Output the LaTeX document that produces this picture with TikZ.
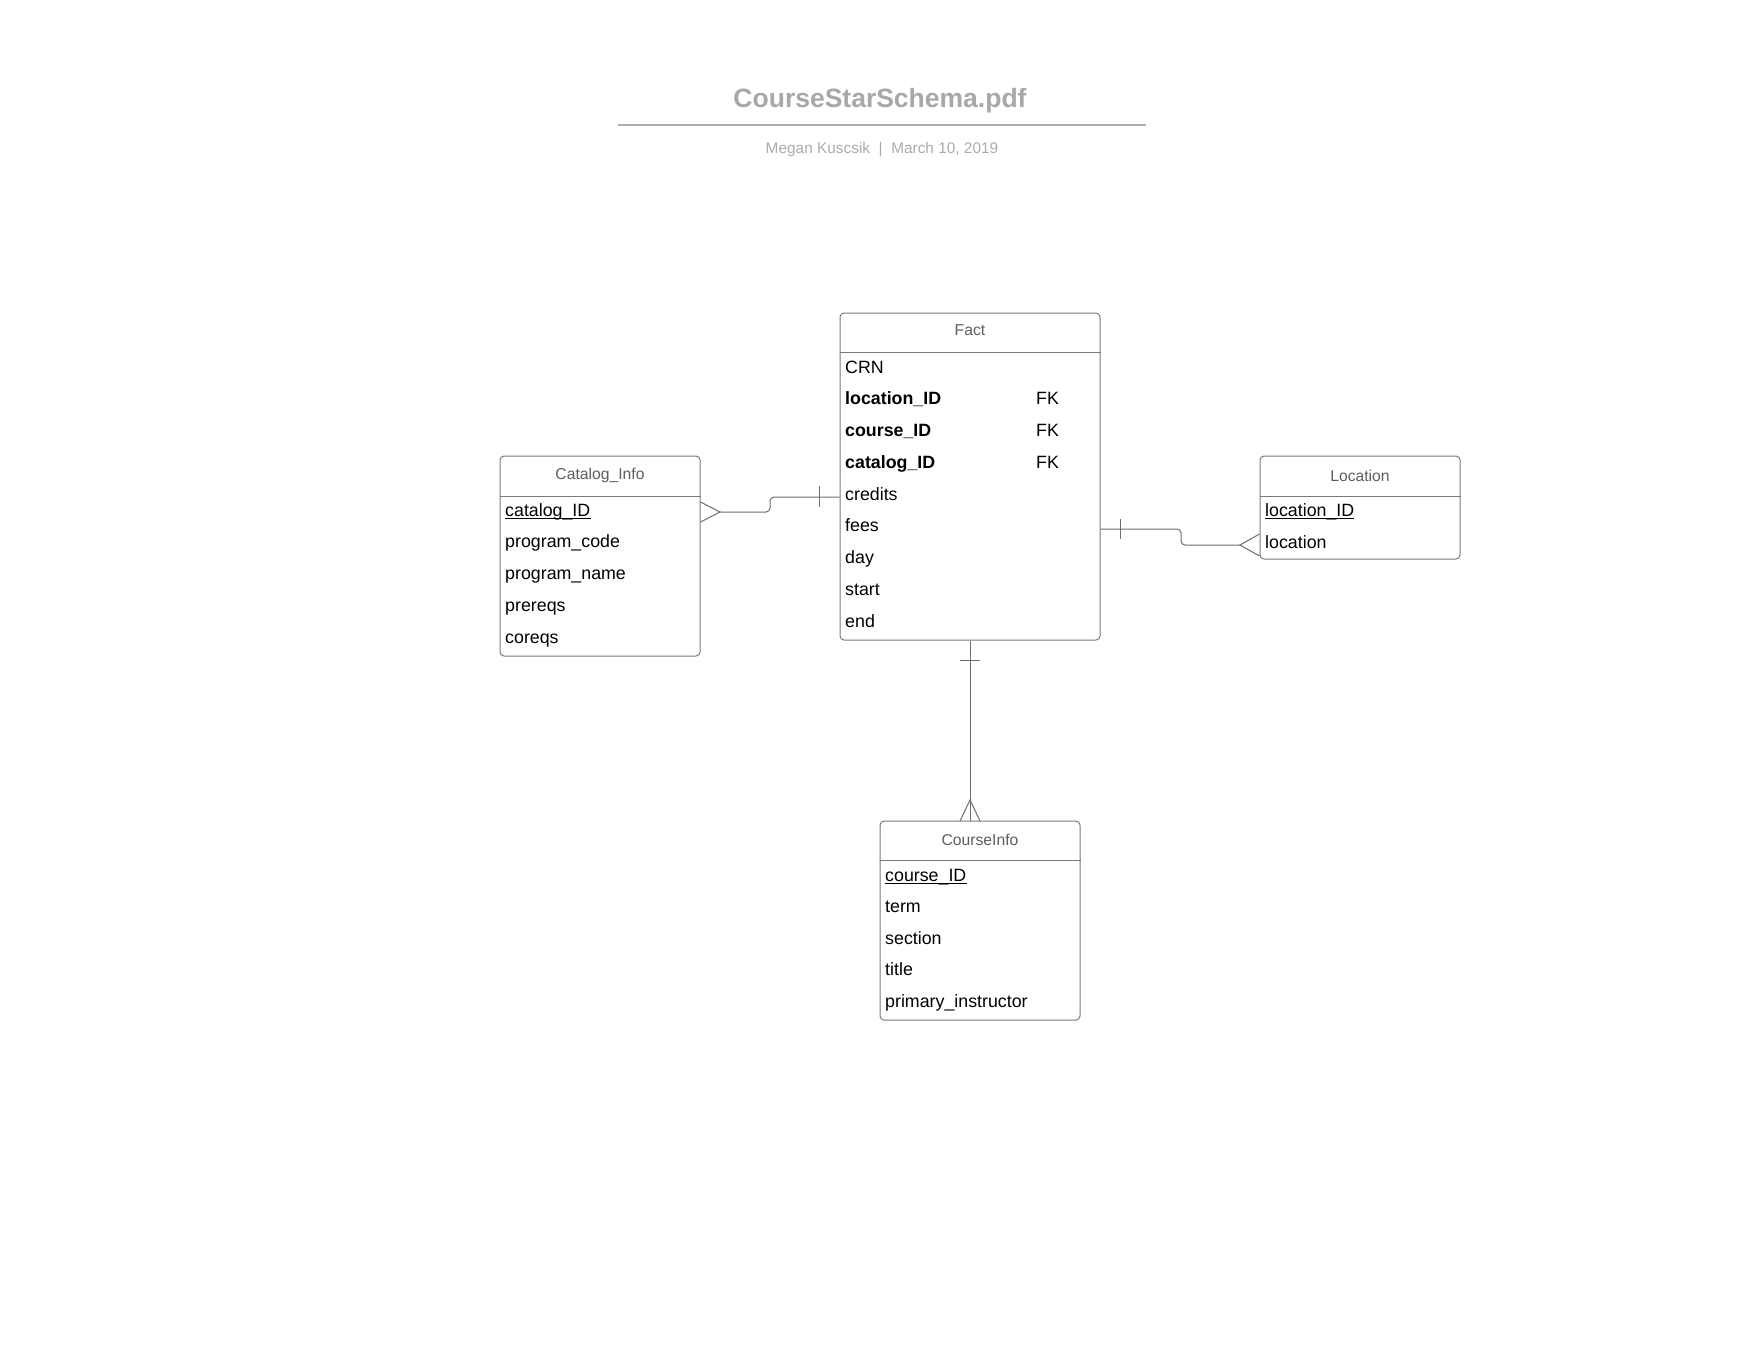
\documentclass[tikz,border=0pt]{standalone}
\usepackage{fontspec}
\setmainfont{Liberation Sans}
\definecolor{titlegray}{HTML}{A8A8A8}
\definecolor{subgray}{HTML}{ABABAB}
\definecolor{rulegray}{HTML}{ADADAD}
\definecolor{boxgray}{HTML}{7A7A7A}
\definecolor{linegray}{HTML}{6E6E6E}
\definecolor{hdrgray}{HTML}{5E5E5E}
\tikzset{
  ent/.style={draw=boxgray, line width=1pt, rounded corners=4pt, rectangle, inner sep=0pt},
  hdr/.style={text=hdrgray, font=\fontsize{15.7}{18}\selectfont, anchor=center, inner sep=0pt},
  fld/.style={anchor=base west, inner sep=0pt, font=\fontsize{17.8}{20}\selectfont},
  bfld/.style={fld, font=\fontsize{17.8}{20}\selectfont\bfseries},
  sepline/.style={draw=boxgray, line width=1pt},
  conn/.style={draw=linegray, line width=1pt},
  ul/.style={draw=black, line width=1.1pt},
}
\begin{document}
\begin{tikzpicture}[x=1pt,y=-1pt]
\useasboundingbox[fill=white] (0,0) rectangle (1760,1360);

% title block
\node[anchor=base, inner sep=0pt, text=titlegray, font=\fontsize{26.5}{30}\selectfont\bfseries] (title) at (880,107) {CourseStarSchema.pdf};
\draw[draw=rulegray, line width=2pt] (618,125) -- (1146,125);
\node[anchor=base, inner sep=0pt, text=subgray, font=\fontsize{15.4}{18}\selectfont] (sub) at (882,153) {Megan Kuscsik\ \ |\ \ March 10, 2019};

% Fact
\node[ent, minimum width=260pt, minimum height=327pt] (fact) at (970,476.5) {};
\draw[sepline] (fact.west |- 0,352) -- (fact.east |- 0,352);
\node[hdr] (facth) at (970,330) {Fact};
\node[fld] (f1) at (845,373) {CRN};
\node[bfld] (f2) at (845,404.75) {location\_ID};
\node[bfld] (f3) at (845,436.5) {course\_ID};
\node[bfld] (f4) at (845,468.25) {catalog\_ID};
\node[fld] (f5) at (845,500) {credits};
\node[fld] (f6) at (845,531.75) {fees};
\node[fld] (f7) at (845,563.5) {day};
\node[fld] (f8) at (845,595.25) {start};
\node[fld] (f9) at (845,627) {end};
\node[fld] (fk1) at (1036,404.75) {FK};
\node[fld] (fk2) at (1036,436.5) {FK};
\node[fld] (fk3) at (1036,468.25) {FK};

% Catalog_Info
\node[ent, minimum width=200pt, minimum height=200pt] (cat) at (600,556) {};
\draw[sepline] (cat.west |- 0,496) -- (cat.east |- 0,496);
\node[hdr] (cath) at (600,475.5) {Catalog\_Info};
\node[fld] (c1) at (505,516) {catalog\_ID};
\draw[ul] ([yshift=-2.2pt]c1.base west) -- ([yshift=-2.2pt]c1.base east);
\node[fld] (c2) at (505,547.75) {program\_code};
\node[fld] (c3) at (505,579.5) {program\_name};
\node[fld] (c4) at (505,611.25) {prereqs};
\node[fld] (c5) at (505,643) {coreqs};

% Location
\node[ent, minimum width=200pt, minimum height=103pt] (loc) at (1360,507.5) {};
\draw[sepline] (loc.west |- 0,496) -- (loc.east |- 0,496);
\node[hdr] (loch) at (1360,475.5) {Location};
\node[fld] (l1) at (1265,516) {location\_ID};
\draw[ul] ([yshift=-2.2pt]l1.base west) -- ([yshift=-2.2pt]l1.base east);
\node[fld] (l2) at (1265,548) {location};

% CourseInfo
\node[ent, minimum width=200pt, minimum height=199pt] (ci) at (980,920.5) {};
\draw[sepline] (ci.west |- 0,860) -- (ci.east |- 0,860);
\node[hdr] (cih) at (980,839.5) {CourseInfo};
\node[fld] (k1) at (885,881) {course\_ID};
\draw[ul] ([yshift=-2.2pt]k1.base west) -- ([yshift=-2.2pt]k1.base east);
\node[fld] (k2) at (885,912.5) {term};
\node[fld] (k3) at (885,944) {section};
\node[fld] (k4) at (885,975.5) {title};
\node[fld] (k5) at (885,1007) {primary\_instructor};

% Catalog_Info (many) -- Fact (one)
\coordinate (catTip) at (720,512);
\draw[conn] (cat.east |- 0,502) -- (catTip) -- (cat.east |- 0,522);
\draw[conn, rounded corners=4pt] (catTip) -- (770,512) -- (770,497) -- (fact.west |- 0,497);
\draw[conn] (819,486) -- (819,507);

% Fact (one) -- Location (many)
\coordinate (locTip) at (1240,545);
\draw[conn, rounded corners=4pt] (fact.east |- 0,529) -- (1181,529) -- (1181,545) -- (locTip);
\draw[conn] (loc.west |- 0,534) -- (locTip) -- (loc.west |- 0,556);
\draw[conn] (1120,519) -- (1120,539);

% Fact (one) -- CourseInfo (many)
\coordinate (ciTip) at (970,800);
\draw[conn] (fact.south) -- (fact.south |- ci.north);
\draw[conn] (960,660) -- (980,660);
\draw[conn] (960,821) -- (ciTip) -- (980,821);
\end{tikzpicture}
\end{document}
